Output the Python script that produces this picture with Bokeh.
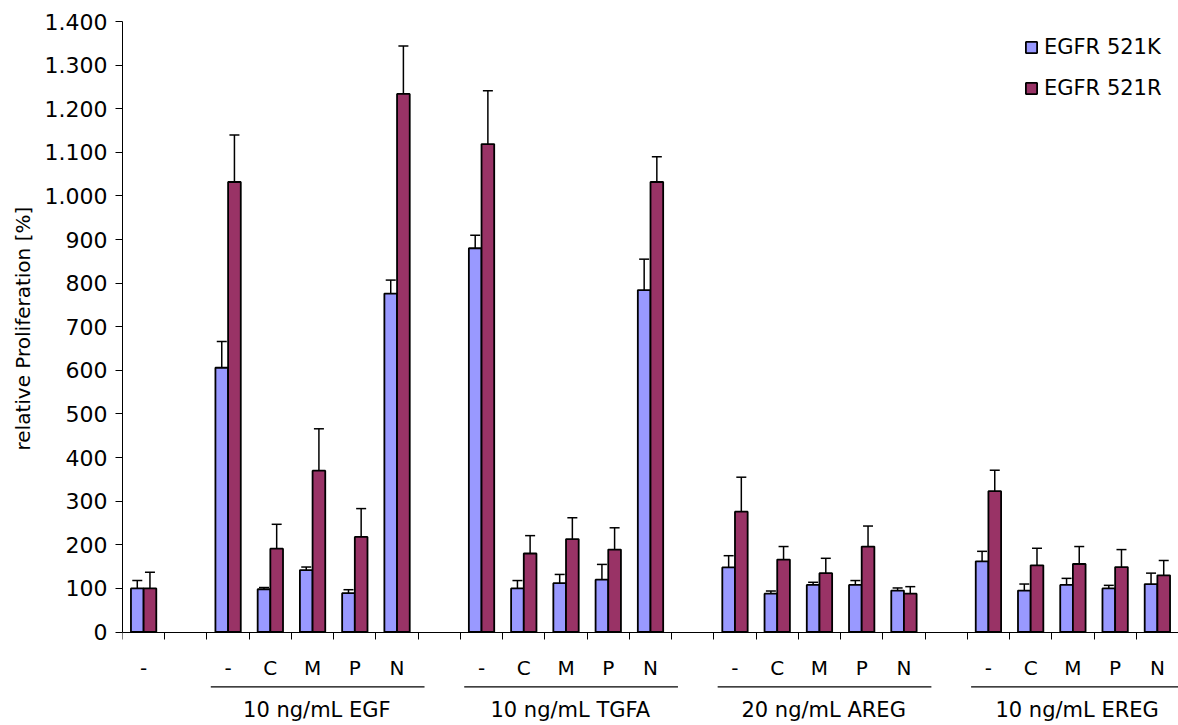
from bokeh.plotting import figure
from bokeh.models import (ColumnDataSource, Range1d, LinearAxis, FixedTicker, Title,
                          CustomJSTickFormatter, Whisker, TeeHead, Legend, LegendItem)
from bokeh.core.properties import value
from bokeh.embed import file_html
from bokeh.resources import INLINE

# ---- data -------------------------------------------------------------
treatments = ["-", "C", "M", "P", "N"]
groups = ["10 ng/mL EGF", "10 ng/mL TGFA", "20 ng/mL AREG", "10 ng/mL EREG"]
control_label = "-"

# order: unstimulated control, then each ligand group with treatments -, C, M, P, N
k521_mean = [100, 606, 98, 142, 89, 776, 880, 100, 112, 120, 784,
             148, 88, 108, 108, 95, 162, 95, 108, 100, 110]
k521_err = [18, 60, 4, 7, 8, 31, 30, 18, 20, 35, 71,
            27, 6, 6, 10, 6, 23, 15, 15, 7, 25]
r521_mean = [100, 1032, 191, 370, 218, 1234, 1119, 180, 213, 189, 1032,
             276, 166, 135, 196, 88, 323, 153, 156, 149, 130]
r521_err = [37, 108, 56, 96, 65, 110, 122, 41, 49, 50, 58,
            79, 30, 34, 47, 16, 48, 39, 40, 40, 34]

series_names = ["EGFR 521K", "EGFR 521R"]
series_colors = ["#9999FF", "#993366"]

y_ticks = list(range(0, 1401, 100))
y_tick_labels = ["0", "100", "200", "300", "400", "500", "600", "700", "800",
                 "900", "1.000", "1.100", "1.200", "1.300", "1.400"]
y_title = "relative Proliferation [%]"

# ---- category slots (empty slot between blocks) -------------------------
slots = [0]
x_labels = [control_label, ""]
for g in range(len(groups)):
    start = 2 + 6 * g
    slots += [start + j for j in range(len(treatments))]
    x_labels += treatments
    if g < len(groups) - 1:
        x_labels.append("")
n_slots = len(x_labels)
group_starts = [2 + 6 * g for g in range(len(groups))]

# ---- layout constants ------------------------------------------------------
FONT = "DejaVu Sans"
W, H = 1178, 725
TOP, LEFT = 21, 122
Y_MAX = 1400
Y_MIN = -214.4
BAR_W = 0.3
RULE_Y = -126
GROUP_TEXT_Y = -178

p = figure(width=W, height=H, title=None, output_backend="svg", toolbar_location=None,
           x_range=Range1d(0, n_slots), y_range=Range1d(Y_MIN, Y_MAX),
           x_axis_location=None, y_axis_location=None,
           min_border_left=LEFT, min_border_right=0, min_border_top=TOP, min_border_bottom=0)
p.grid.visible = False
p.outline_line_color = None
p.background_fill_color = "white"
p.border_fill_color = "white"

# ---- bars ------------------------------------------------------------------
renderers = []
for s, (means, errs) in enumerate([(k521_mean, k521_err), (r521_mean, r521_err)]):
    xs = [sl + 0.5 + (s - 0.5) * BAR_W for sl in slots]
    src = ColumnDataSource(dict(x=xs, top=means,
                                upper=[m + e for m, e in zip(means, errs)]))
    r = p.vbar(x="x", top="top", bottom=0, width=BAR_W, source=src,
               fill_color=series_colors[s], line_color="black", line_width=1.8)
    renderers.append(r)
    p.add_layout(Whisker(source=src, base="x", lower="top", upper="upper",
                         dimension="height", line_color="black", line_width=1.5,
                         lower_head=None,
                         upper_head=TeeHead(size=10, line_color="black", line_width=1.5)))

# ---- y axis ----------------------------------------------------------------
yaxis = LinearAxis(ticker=FixedTicker(ticks=y_ticks), bounds=(0, Y_MAX),
                   major_label_overrides={t: l for t, l in zip(y_ticks, y_tick_labels)},
                   major_label_text_font=FONT, major_label_text_font_size="22px",
                   major_label_text_color="black", major_label_standoff=8,
                   major_tick_out=7, major_tick_in=0, minor_tick_line_color=None,
                   axis_line_color="black", major_tick_line_color="black")
p.add_layout(yaxis, "left")

# axis title, centred on the 0..1400 part of the value axis
p.add_layout(Title(text=y_title, align="left", offset=275, standoff=14,
                   text_font=FONT, text_font_size="20px", text_font_style="normal",
                   text_color="black"), "left")

# ---- x axis: separators between slots, labels at slot centres ---------------
xaxis = LinearAxis(ticker=FixedTicker(ticks=[i + 0.5 for i in range(n_slots)],
                                      minor_ticks=list(range(n_slots + 1))),
                   fixed_location=0,
                   formatter=CustomJSTickFormatter(args=dict(labels=x_labels), code="""
                       const i = Math.floor(tick);
                       return (i >= 0 && i < labels.length) ? labels[i] : "";
                   """),
                   major_tick_line_color=None, major_tick_out=0, major_tick_in=0,
                   minor_tick_out=7, minor_tick_in=0, minor_tick_line_color="black",
                   axis_line_color="black", major_label_standoff=17,
                   major_label_text_font=FONT, major_label_text_font_size="20px",
                   major_label_text_color="black")
p.add_layout(xaxis, "below")

# ---- group rules and names ---------------------------------------------------
gsrc = ColumnDataSource(dict(
    x0=[g + 0.09 for g in group_starts],
    x1=[g + 5.15 for g in group_starts],
    xc=[g + 2.6 for g in group_starts],
    name=groups))
p.segment(x0="x0", x1="x1", y0=RULE_Y, y1=RULE_Y, source=gsrc,
          line_color="black", line_width=1.2)
p.text(x="xc", y=GROUP_TEXT_Y, text="name", source=gsrc,
       text_font=value(FONT), text_font_size=value("21px"), text_color="black",
       text_align="center", text_baseline="middle")

# ---- legend ----------------------------------------------------------------
legend = Legend(items=[LegendItem(label=n, renderers=[r])
                       for n, r in zip(series_names, renderers)],
                location=(902, 625), padding=0, margin=0, spacing=17,
                glyph_width=14, glyph_height=14, label_standoff=6,
                label_text_font=FONT, label_text_font_size="21px", label_text_color="black",
                border_line_color=None, background_fill_alpha=0)
p.add_layout(legend)

open("out.html", "w").write(file_html(p, INLINE))
